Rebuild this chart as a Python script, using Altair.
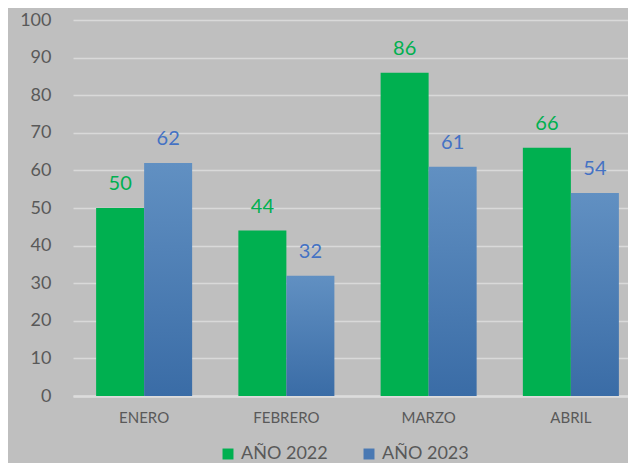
import altair as alt
import pandas as pd

meses = ["ENERO", "FEBRERO", "MARZO", "ABRIL"]
series = ["AÑO 2022", "AÑO 2023"]
v2022 = [50, 44, 86, 66]
v2023 = [62, 32, 61, 54]

rows = []
for m, a, b in zip(meses, v2022, v2023):
    rows.append({"mes": m, "serie": series[0], "valor": a})
    rows.append({"mes": m, "serie": series[1], "valor": b})
df = pd.DataFrame(rows)

FONT = "Lato"
GRAY = "#595959"

x_enc = alt.X(
    "mes:N", sort=meses, title=None,
    scale=alt.Scale(range=[0, 569], paddingInner=0.325, paddingOuter=0.1625),
    axis=alt.Axis(labelAngle=0, labelFontSize=15, labelColor=GRAY, labelFont=FONT,
                  labelPadding=14, ticks=False, domainColor="#dcdcdc", domainWidth=2.5),
)
xo_enc = alt.XOffset("serie:N", scale=alt.Scale(domain=series, paddingInner=0, paddingOuter=0))
y_enc = alt.Y(
    "valor:Q", title=None, scale=alt.Scale(domain=[0, 100]),
    axis=alt.Axis(values=list(range(0, 101, 10)), labelFontSize=18, labelColor=GRAY,
                  labelFont=FONT, labelPadding=22, ticks=False, domain=False,
                  gridColor="#d9d9d9", gridWidth=1.5),
)

base = alt.Chart(df).encode(x=x_enc, xOffset=xo_enc, y=y_enc)

bars22 = base.transform_filter(alt.datum.serie == series[0]).mark_bar(
    color="#00b050"
).encode(
    color=alt.Color(
        "serie:N",
        scale=alt.Scale(domain=series, range=["#00b050", "#4a79b3"]),
        legend=alt.Legend(
            title=None, orient="none", legendX=146, legendY=425, direction="horizontal",
            symbolType="square", symbolSize=120, symbolStrokeWidth=0,
            labelFontSize=18, labelColor=GRAY, labelFont=FONT,
            columnPadding=32, labelOffset=4,
        ),
    )
)

bars23 = base.transform_filter(alt.datum.serie == series[1]).mark_bar(
    fill=alt.Gradient(
        gradient="linear",
        stops=[alt.GradientStop(color="#6190c2", offset=0),
               alt.GradientStop(color="#3a6ca6", offset=1)],
        x1=0, x2=0, y1=0, y2=1,
    )
)

labels = base.mark_text(dy=-18, baseline="alphabetic", fontSize=20, font=FONT).encode(
    text="valor:Q",
    color=alt.condition(alt.datum.serie == series[0], alt.value("#00b050"), alt.value("#4472c4")),
)

chart = alt.layer(bars22, bars23, labels).properties(
    width=555, height=376,
    autosize=alt.AutoSizeParams(type="none"),
    padding={"left": 65, "top": 12, "right": 0, "bottom": 67},
    background="#bfbfbf",
).configure_view(stroke=None)

chart.save("out.html", embed_options={"renderer": "svg", "actions": False})
